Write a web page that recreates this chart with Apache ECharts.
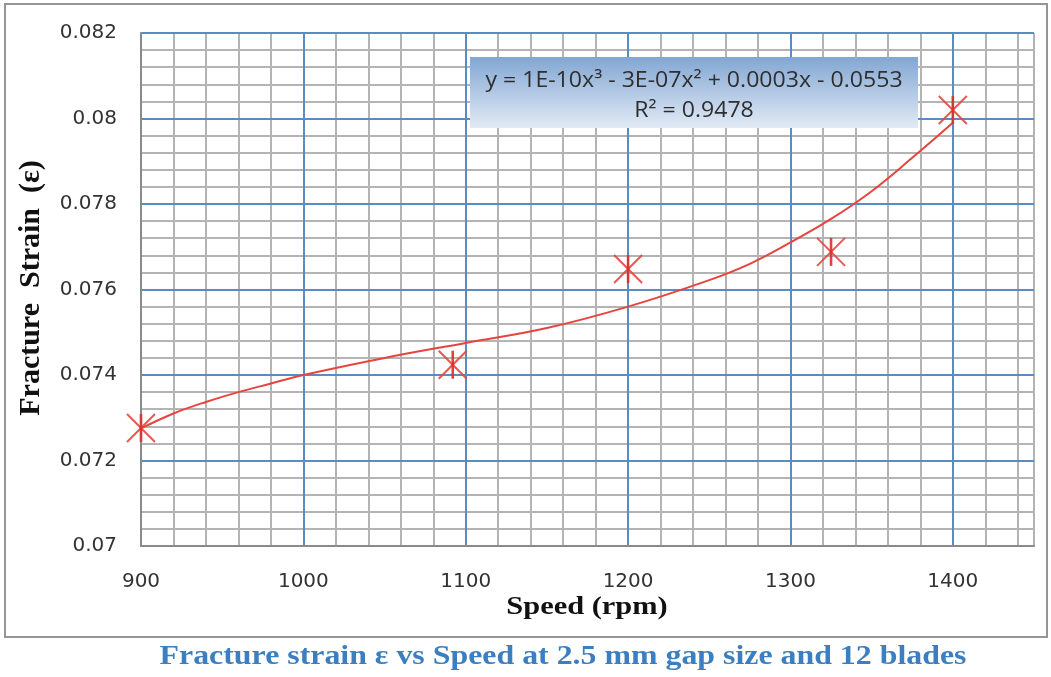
<!DOCTYPE html>
<html>
<head>
<meta charset="utf-8">
<script src="https://cdn.jsdelivr.net/npm/echarts@6/dist/echarts.min.js"></script>
<style>
  html, body { margin: 0; padding: 0; background: #ffffff; }
  #chart { width: 1051px; height: 677px; }
</style>
</head>
<body>
<div id="chart"></div>
<script>
// Measured fracture strain at each rotor speed
const speed = [900, 1092, 1200, 1325, 1400];
const strain = [0.07276, 0.07424, 0.07648, 0.07688, 0.0802];

// Polynomial trendline (order 3), sampled along the fitted curve
const trendSpeed = [900, 920, 940, 960, 980, 1000, 1050, 1100, 1150, 1200, 1250, 1275, 1300, 1325, 1350, 1375, 1400];
const trendStrain = [0.07275, 0.0731, 0.07337, 0.0736, 0.0738, 0.0740, 0.0744, 0.07475, 0.0751, 0.0756, 0.07622, 0.0766, 0.0771, 0.07765, 0.0783, 0.07908, 0.0799];

// Axis ticks
const xTicks = { min: 900, max: 1450, major: 100, minor: 20 };
const yTicks = { min: 0.07, max: 0.082, major: 0.002, minor: 0.0004 };

const equationText = 'y = 1E-10x³ - 3E-07x² + 0.0003x - 0.0553';
const r2Text = 'R² = 0.9478';
const xTitle = 'Speed (rpm)';
const yTitle = 'Fracture  Strain  (ε)';
const caption = 'Fracture strain ε vs Speed at 2.5 mm gap size and 12 blades';

const MAJOR = '#5a8cc4';
const MINOR = '#b4b4b4';
const RED = '#e5453f';
const STAR = 14; // half size of the star marker, px

const chart = echarts.init(document.getElementById('chart'), null, { renderer: 'canvas' });

const labelFont = { fontFamily: 'DejaVu Sans', fontSize: 20, color: '#333333' };
const points = speed.map((s, i) => [s, strain[i]]);

// Star marker: two diagonals plus a vertical stroke
function renderStar(params, api) {
  const c = api.coord([api.value(0), api.value(1)]);
  const seg = (x1, y1, x2, y2, w, col) => ({
    type: 'line',
    shape: { x1: c[0] + x1, y1: c[1] + y1, x2: c[0] + x2, y2: c[1] + y2 },
    style: { stroke: col, lineWidth: w, opacity: 0.9 }
  });
  return {
    type: 'group',
    children: [
      seg(-STAR, -STAR, STAR, STAR, 2, RED),
      seg(STAR, -STAR, -STAR, STAR, 2, RED),
      seg(0, -STAR, 0, STAR, 2.6, '#d9302a')
    ]
  };
}

chart.setOption({
  animation: false,
  backgroundColor: '#ffffff',
  grid: { left: 141, top: 33, right: 17, bottom: 131, containLabel: false },
  xAxis: [
    {
      type: 'value', min: xTicks.min, max: xTicks.max, interval: xTicks.major, z: 1,
      axisLine: { show: true, lineStyle: { color: '#8a8a8a', width: 2 } },
      axisTick: { show: false },
      axisLabel: Object.assign({ margin: 26, showMaxLabel: false, formatter: v => String(v) }, labelFont),
      splitLine: { show: true, showMinLine: false, showMaxLine: false, lineStyle: { color: MAJOR, width: 2 } }
    },
    {
      type: 'value', min: xTicks.min, max: xTicks.max, interval: xTicks.minor, z: 0,
      axisLine: { show: false }, axisTick: { show: false }, axisLabel: { show: false },
      splitLine: { show: true, lineStyle: { color: MINOR, width: 2 } }
    }
  ],
  yAxis: [
    {
      type: 'value', min: yTicks.min, max: yTicks.max, interval: yTicks.major, z: 1,
      axisLine: { show: true, lineStyle: { color: '#8a8a8a', width: 2 } },
      axisTick: { show: false },
      axisLabel: Object.assign({ margin: 24, formatter: v => String(+v.toFixed(3)) }, labelFont),
      splitLine: { show: true, showMinLine: false, lineStyle: { color: MAJOR, width: 2 } }
    },
    {
      type: 'value', min: yTicks.min, max: yTicks.max, interval: yTicks.minor, z: 0,
      axisLine: { show: false }, axisTick: { show: false }, axisLabel: { show: false },
      splitLine: { show: true, lineStyle: { color: MINOR, width: 2 } }
    }
  ],
  series: [
    {
      name: 'Trendline', type: 'line', xAxisIndex: 0, yAxisIndex: 0,
      data: trendSpeed.map((s, i) => [s, trendStrain[i]]),
      smooth: 0.4, showSymbol: false, z: 3,
      lineStyle: { color: RED, width: 2 }
    },
    {
      name: 'Fracture strain', type: 'custom', xAxisIndex: 0, yAxisIndex: 0,
      data: points, renderItem: renderStar, z: 4,
      encode: { x: 0, y: 1 }
    }
  ],
  graphic: [
    {
      type: 'rect', z: -1, silent: true,
      shape: { x: 5, y: 4, width: 1042, height: 633 },
      style: { fill: 'none', stroke: '#959595', lineWidth: 2 }
    },
    {
      type: 'rect', z: 10,
      shape: { x: 470, y: 57, width: 448, height: 71 },
      style: {
        fill: new echarts.graphic.LinearGradient(0, 0, 0, 1, [
          { offset: 0, color: '#82a6d3' },
          { offset: 1, color: '#e2ebf6' }
        ])
      }
    },
    {
      type: 'text', z: 11, x: 694, y: 81, scaleX: 1.1,
      style: { text: equationText, font: '21px "Open Sans"', fill: '#2e2e2e', textAlign: 'center', textVerticalAlign: 'middle' }
    },
    {
      type: 'text', z: 11, x: 694, y: 111, scaleX: 1.1,
      style: { text: r2Text, font: '21px "Open Sans"', fill: '#2e2e2e', textAlign: 'center', textVerticalAlign: 'middle' }
    },
    {
      type: 'text', z: 11, x: 587, y: 607, scaleX: 1.17,
      style: { text: xTitle, font: 'bold 26px "Liberation Serif"', fill: '#111111', textAlign: 'center', textVerticalAlign: 'middle' }
    },
    {
      type: 'text', z: 11, x: 31, y: 288, rotation: Math.PI / 2,
      style: { text: yTitle, font: 'bold 30px "Liberation Serif"', fill: '#111111', textAlign: 'center', textVerticalAlign: 'middle' }
    },
    {
      type: 'text', z: 11, x: 563, y: 657, scaleX: 1.18,
      style: { text: caption, font: 'bold 27px "Liberation Serif"', fill: '#3b7fc0', textAlign: 'center', textVerticalAlign: 'middle' }
    }
  ]
});
</script>
</body>
</html>
